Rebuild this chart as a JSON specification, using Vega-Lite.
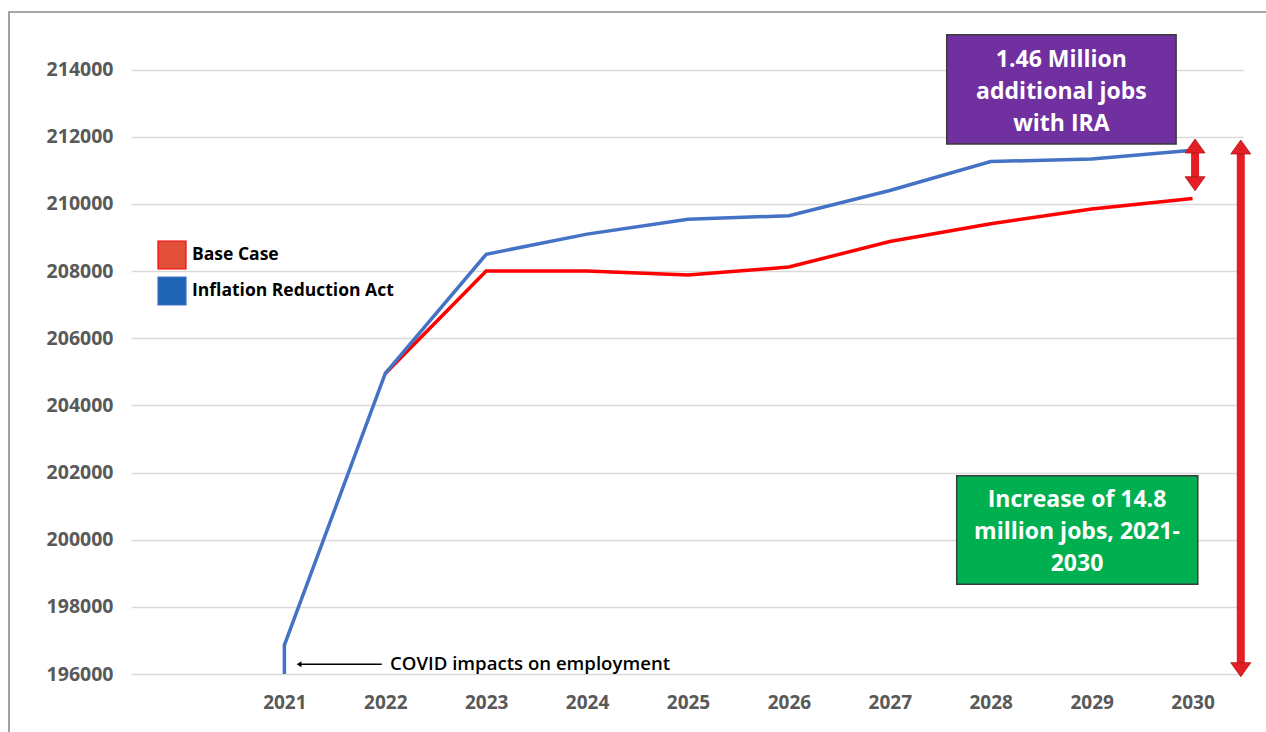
{
  "$schema": "https://vega.github.io/schema/vega-lite/v6.json",
  "width": 1112,
  "height": 638,
  "autosize": {"type": "none"},
  "padding": {"left": 131, "top": 36, "right": 23, "bottom": 58},
  "background": "white",
  "config": {"view": {"stroke": null}, "font": "Open Sans"},
  "encoding": {
    "x": {
      "field": "year", "type": "quantitative",
      "scale": {"domain": [2019.48, 2030.5], "nice": false, "zero": false},
      "axis": {
        "values": [2021, 2022, 2023, 2024, 2025, 2026, 2027, 2028, 2029, 2030],
        "format": "d", "title": null, "grid": false, "domain": false, "ticks": false,
        "labelFont": "Open Sans", "labelFontSize": 19, "labelFontWeight": "bold",
        "labelColor": "#595959", "labelPadding": 19
      }
    },
    "y": {
      "field": "value", "type": "quantitative",
      "scale": {"domain": [196000, 215000], "nice": false, "zero": false},
      "axis": {
        "values": [196000, 198000, 200000, 202000, 204000, 206000, 208000, 210000, 212000, 214000],
        "format": "d", "title": null, "domain": false, "ticks": false,
        "grid": true, "gridColor": "#D9D9D9", "gridWidth": 1.3,
        "labelFont": "Open Sans", "labelFontSize": 19.5, "labelFontWeight": "bold",
        "labelColor": "#595959", "labelPadding": 18
      }
    }
  },
  "layer": [
    {
      "data": {"values": [{"year": 2018.271, "year2": 2032, "value": 215715, "value2": 194000}]},
      "mark": {"type": "rect", "filled": false, "stroke": "#8A8A8A", "strokeWidth": 1.6, "clip": false},
      "encoding": {"x2": {"field": "year2"}, "y2": {"field": "value2"}}
    },
    {
      "data": {"values": [
        {"series": "Base Case", "year": 2022, "value": 204950, "ord": 2},
        {"series": "Base Case", "year": 2023, "value": 208000, "ord": 3},
        {"series": "Base Case", "year": 2024, "value": 208000, "ord": 4},
        {"series": "Base Case", "year": 2025, "value": 207880, "ord": 5},
        {"series": "Base Case", "year": 2026, "value": 208120, "ord": 6},
        {"series": "Base Case", "year": 2027, "value": 208880, "ord": 7},
        {"series": "Base Case", "year": 2028, "value": 209410, "ord": 8},
        {"series": "Base Case", "year": 2029, "value": 209850, "ord": 9},
        {"series": "Base Case", "year": 2030, "value": 210160, "ord": 10},
        {"series": "Inflation Reduction Act", "year": 2021, "value": 196000, "ord": 0},
        {"series": "Inflation Reduction Act", "year": 2021, "value": 196860, "ord": 1},
        {"series": "Inflation Reduction Act", "year": 2022, "value": 204950, "ord": 2},
        {"series": "Inflation Reduction Act", "year": 2023, "value": 208500, "ord": 3},
        {"series": "Inflation Reduction Act", "year": 2024, "value": 209100, "ord": 4},
        {"series": "Inflation Reduction Act", "year": 2025, "value": 209540, "ord": 5},
        {"series": "Inflation Reduction Act", "year": 2026, "value": 209650, "ord": 6},
        {"series": "Inflation Reduction Act", "year": 2027, "value": 210400, "ord": 7},
        {"series": "Inflation Reduction Act", "year": 2028, "value": 211260, "ord": 8},
        {"series": "Inflation Reduction Act", "year": 2029, "value": 211340, "ord": 9},
        {"series": "Inflation Reduction Act", "year": 2030, "value": 211600, "ord": 10}
      ]},
      "mark": {"type": "line", "strokeWidth": 3.5, "strokeJoin": "miter"},
      "encoding": {
        "order": {"field": "ord", "type": "quantitative"},
        "color": {
          "field": "series", "type": "nominal",
          "scale": {"domain": ["Base Case", "Inflation Reduction Act"], "range": ["#FF0000", "#4472C4"]},
          "legend": {
            "orient": "none", "legendX": 26, "legendY": 204, "title": null,
            "symbolType": "square", "symbolSize": 784, "padding": 0, "offset": 0,
            "labelFont": "Open Sans", "labelFontSize": 17.5, "labelFontWeight": "bold",
            "labelColor": "#000000", "labelOffset": 5, "rowPadding": 2, "labelLimit": 400,
            "encode": {"symbols": {"update": {
              "fill": {"signal": "datum.value === 'Base Case' ? '#E2503C' : '#1F64B4'"},
              "stroke": {"value": "#3A3A3A"},
              "strokeWidth": {"value": 1.2},
              "opacity": {"value": 1}
            }}}
          }
        }
      }
    },
    {
      "data": {"values": [{"year": 2027.564, "year2": 2029.837, "value": 215039, "value2": 211784}]},
      "mark": {"type": "rect", "fill": "#7030A0", "stroke": "#3A3A3A", "strokeWidth": 1.5, "clip": false},
      "encoding": {"x2": {"field": "year2"}, "y2": {"field": "value2"}}
    },
    {
      "data": {"values": [{"year": 2028.70, "value": 214285, "label": "1.46 Million\nadditional jobs\nwith IRA"}]},
      "mark": {"type": "text", "align": "center", "baseline": "middle", "lineBreak": "\n", "lineHeight": 32,
               "font": "Open Sans", "fontSize": 23, "fontWeight": "bold", "color": "#FFFFFF"},
      "encoding": {"text": {"field": "label"}}
    },
    {
      "data": {"values": [{"year": 2027.663, "year2": 2030.052, "value": 201906, "value2": 198672}]},
      "mark": {"type": "rect", "fill": "#00B050", "stroke": "#3A3A3A", "strokeWidth": 1.5, "clip": false},
      "encoding": {"x2": {"field": "year2"}, "y2": {"field": "value2"}}
    },
    {
      "data": {"values": [{"year": 2028.855, "value": 201170, "label": "Increase of 14.8\nmillion jobs, 2021-\n2030"}]},
      "mark": {"type": "text", "align": "center", "baseline": "middle", "lineBreak": "\n", "lineHeight": 32,
               "font": "Open Sans", "fontSize": 23, "fontWeight": "bold", "color": "#FFFFFF"},
      "encoding": {"text": {"field": "label"}}
    },
    {
      "data": {"values": [
        {"year": 2030.025, "value": 211575, "value2": 210750},
        {"year": 2030.478, "value": 211546, "value2": 196278}
      ]},
      "mark": {"type": "rule", "color": "#E41E25", "strokeWidth": 8, "clip": false},
      "encoding": {"y2": {"field": "value2"}}
    },
    {
      "data": {"values": [
        {"year": 2030.025, "value": 211933},
        {"year": 2030.478, "value": 211903}
      ]},
      "mark": {"type": "point", "shape": "M0,0L1,1.4L-1,1.4Z", "size": 400, "filled": true,
               "fill": "#E41E25", "stroke": "#B0141A", "strokeWidth": 0.8, "opacity": 1, "clip": false},
      "encoding": {}
    },
    {
      "data": {"values": [
        {"year": 2030.025, "value": 210393},
        {"year": 2030.478, "value": 195920}
      ]},
      "mark": {"type": "point", "shape": "M0,0L1,-1.4L-1,-1.4Z", "size": 400, "filled": true,
               "fill": "#E41E25", "stroke": "#B0141A", "strokeWidth": 0.8, "opacity": 1, "clip": false},
      "encoding": {}
    },
    {
      "data": {"values": [{"year": 2021.16, "year2": 2021.965, "value": 196290}]},
      "mark": {"type": "rule", "color": "#000000", "strokeWidth": 1.4},
      "encoding": {"x2": {"field": "year2"}}
    },
    {
      "data": {"values": [{"year": 2021.122, "value": 196290}]},
      "mark": {"type": "point", "shape": "M0,0L1.6,-1L1.6,1Z", "size": 36, "filled": true,
               "fill": "#000000", "opacity": 1},
      "encoding": {}
    },
    {
      "data": {"values": [{"year": 2022.047, "value": 196300, "label": "COVID impacts on employment"}]},
      "mark": {"type": "text", "align": "left", "baseline": "middle",
               "font": "Open Sans", "fontSize": 18.6, "fontWeight": 600, "color": "#000000"},
      "encoding": {"text": {"field": "label"}}
    }
  ]
}
